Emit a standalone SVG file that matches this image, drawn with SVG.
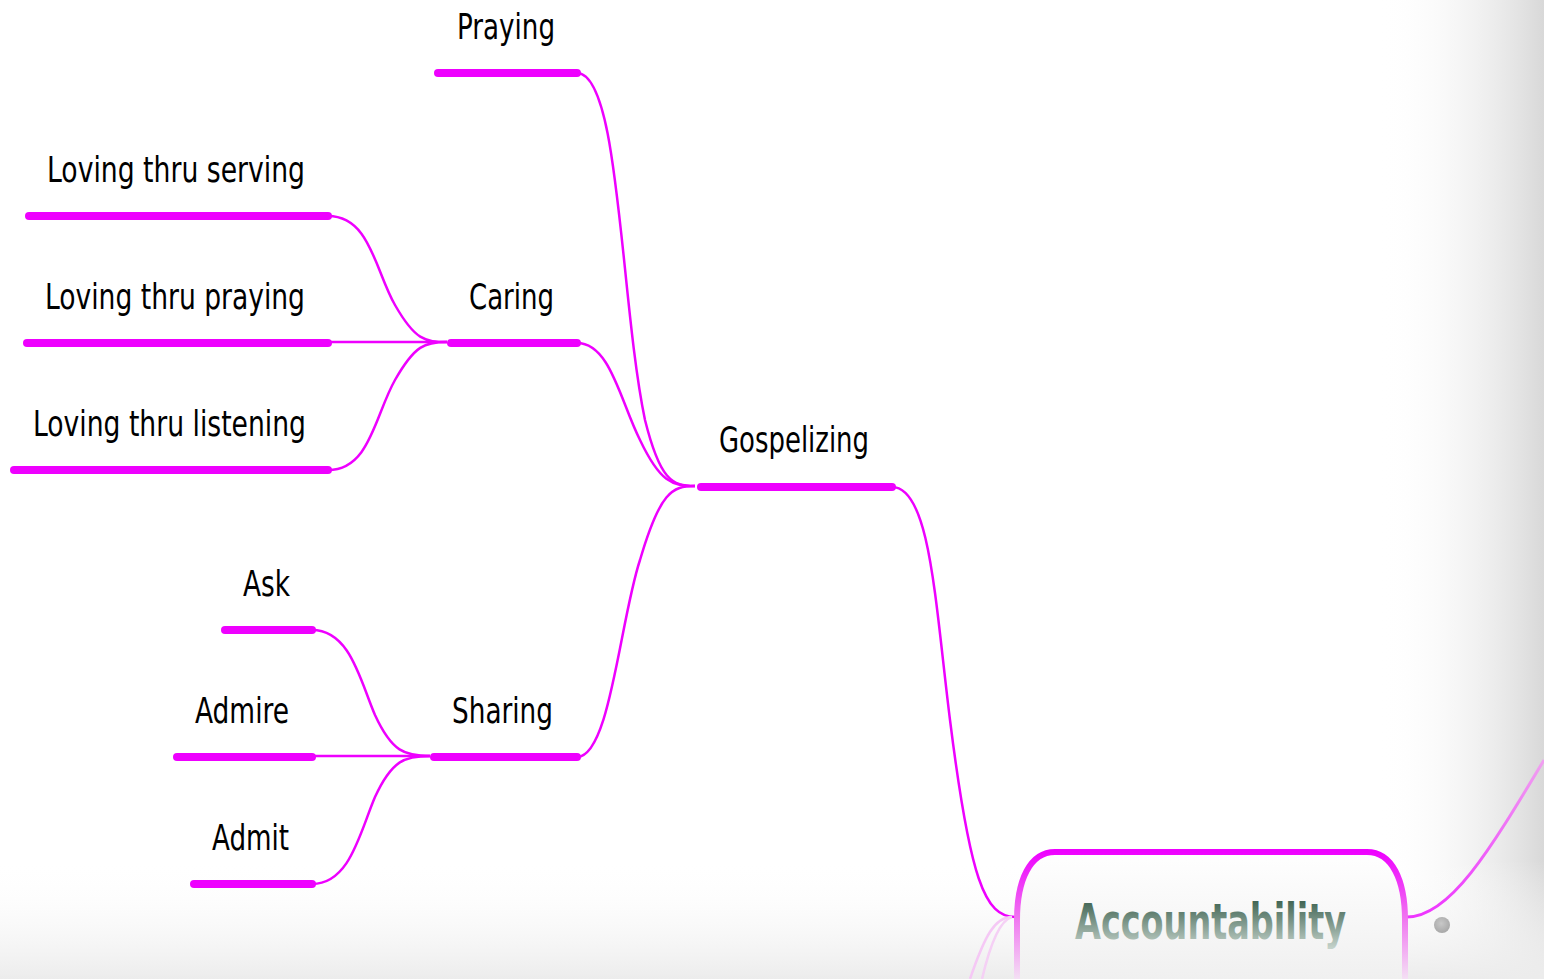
<svg xmlns="http://www.w3.org/2000/svg" width="1544" height="979" viewBox="0 0 1544 979">
<defs>
<linearGradient id="bgR" x1="0" y1="0" x2="1" y2="0">
<stop offset="0" stop-color="#ffffff" stop-opacity="0"/>
<stop offset="1" stop-color="#d8d8d8" stop-opacity="1"/>
</linearGradient>
<linearGradient id="bgB" x1="0" y1="0" x2="0" y2="1">
<stop offset="0" stop-color="#ffffff" stop-opacity="0"/>
<stop offset="1" stop-color="#ececec" stop-opacity="1"/>
</linearGradient>
<linearGradient id="boxStroke" x1="0" y1="851" x2="0" y2="979" gradientUnits="userSpaceOnUse">
<stop offset="0" stop-color="#ee00ff"/>
<stop offset="0.5" stop-color="#f070f0"/>
<stop offset="1" stop-color="#f4e0f4"/>
</linearGradient>
<linearGradient id="boxFill" x1="0" y1="851" x2="0" y2="979" gradientUnits="userSpaceOnUse">
<stop offset="0" stop-color="#ffffff"/>
<stop offset="1" stop-color="#f0f0f0"/>
</linearGradient>
<linearGradient id="txtGrad" x1="0" y1="900" x2="0" y2="948" gradientUnits="userSpaceOnUse">
<stop offset="0" stop-color="#3f6352"/>
<stop offset="1" stop-color="#c4d2ca"/>
</linearGradient>
<linearGradient id="rCurve" x1="0" y1="760" x2="0" y2="920" gradientUnits="userSpaceOnUse">
<stop offset="0" stop-color="#f0a0f0"/>
<stop offset="1" stop-color="#ee33ff"/>
</linearGradient>
<radialGradient id="dot" cx="0.45" cy="0.4" r="0.6">
<stop offset="0" stop-color="#c8c8c8"/>
<stop offset="1" stop-color="#a8a8a8"/>
</radialGradient>
</defs>
<style>
.bar{stroke:#ee00ff;stroke-width:8;stroke-linecap:round;fill:none}
.con{stroke:#ee00ff;stroke-width:2.5;fill:none}
.lbl{font-family:"DejaVu Sans Condensed","DejaVu Sans",sans-serif;font-size:35px;fill:#000}
</style>
<rect x="0" y="0" width="1544" height="979" fill="#ffffff"/>
<rect x="1380" y="0" width="164" height="979" fill="url(#bgR)"/>
<rect x="0" y="860" width="1544" height="119" fill="url(#bgB)"/>

<g id="connectors">
<path class="con" d="M577,73 C620,73 620,300 645,420 C660,480 672,486 695,486"/>
<path class="con" d="M577,343 C610,343 620,400 640,440 C660,482 672,486 695,486"/>
<path class="con" d="M577,757 C610,757 620,620 640,560 C660,492 672,486 695,486"/>
<path class="con" d="M892,487 C930,487 935,600 950,720 C970,880 985,917 1015,917"/>
<path class="con" d="M328,216 C370,216 375,270 395,305 C415,340 425,342 447,342"/>
<path class="con" d="M328,342 L447,342"/>
<path class="con" d="M328,470 C370,470 375,415 395,380 C415,345 425,342 447,342"/>
<path class="con" d="M312,630 C350,630 360,680 375,715 C392,752 405,756 430,756"/>
<path class="con" d="M312,756 L430,756"/>
<path class="con" d="M312,884 C350,884 360,832 375,797 C392,760 405,756 430,756"/>
<path d="M1407,917 C1450,917 1490,850 1544,760" fill="none" stroke="url(#rCurve)" stroke-width="3"/>
<path d="M1012,917 C995,917 985,935 970,979" fill="none" stroke="#f5c8f5" stroke-width="2.5"/>
<path d="M1012,917 C1000,920 990,945 982,979" fill="none" stroke="#f5d0f5" stroke-width="2.5"/>
</g>

<g id="node-praying">
<line class="bar" x1="438" y1="73" x2="577" y2="73"/>
<text class="lbl" x="457" y="39" textLength="98" lengthAdjust="spacingAndGlyphs">Praying</text>
</g>
<g id="node-serving">
<line class="bar" x1="29" y1="216" x2="328" y2="216"/>
<text class="lbl" x="47" y="182" textLength="258" lengthAdjust="spacingAndGlyphs">Loving thru serving</text>
</g>
<g id="node-lpraying">
<line class="bar" x1="27" y1="343" x2="328" y2="343"/>
<text class="lbl" x="45" y="309" textLength="260" lengthAdjust="spacingAndGlyphs">Loving thru praying</text>
</g>
<g id="node-listening">
<line class="bar" x1="14" y1="470" x2="328" y2="470"/>
<text class="lbl" x="33" y="436" textLength="273" lengthAdjust="spacingAndGlyphs">Loving thru listening</text>
</g>
<g id="node-caring">
<line class="bar" x1="451" y1="343" x2="577" y2="343"/>
<text class="lbl" x="469" y="309" textLength="85" lengthAdjust="spacingAndGlyphs">Caring</text>
</g>
<g id="node-gospelizing">
<line class="bar" x1="701" y1="487" x2="892" y2="487"/>
<text class="lbl" x="719" y="452" textLength="150" lengthAdjust="spacingAndGlyphs">Gospelizing</text>
</g>
<g id="node-ask">
<line class="bar" x1="225" y1="630" x2="312" y2="630"/>
<text class="lbl" x="243" y="596" textLength="47" lengthAdjust="spacingAndGlyphs">Ask</text>
</g>
<g id="node-admire">
<line class="bar" x1="177" y1="757" x2="312" y2="757"/>
<text class="lbl" x="195" y="723" textLength="94" lengthAdjust="spacingAndGlyphs">Admire</text>
</g>
<g id="node-admit">
<line class="bar" x1="194" y1="884" x2="312" y2="884"/>
<text class="lbl" x="212" y="850" textLength="77" lengthAdjust="spacingAndGlyphs">Admit</text>
</g>
<g id="node-sharing">
<line class="bar" x1="434" y1="757" x2="577" y2="757"/>
<text class="lbl" x="452" y="723" textLength="101" lengthAdjust="spacingAndGlyphs">Sharing</text>
</g>
<g id="node-accountability">
<path d="M1017,990 L1017,920 C1017,880 1030,852 1055,852 L1367,852 C1392,852 1405,880 1405,920 L1405,990" fill="url(#boxFill)" stroke="url(#boxStroke)" stroke-width="6"/>
<text x="1075" y="939" font-family="'DejaVu Sans Condensed','DejaVu Sans',sans-serif" font-weight="bold" font-size="50" fill="url(#txtGrad)" textLength="271" lengthAdjust="spacingAndGlyphs">Accountability</text>
<circle cx="1442" cy="925" r="8" fill="url(#dot)"/>
</g>
</svg>
